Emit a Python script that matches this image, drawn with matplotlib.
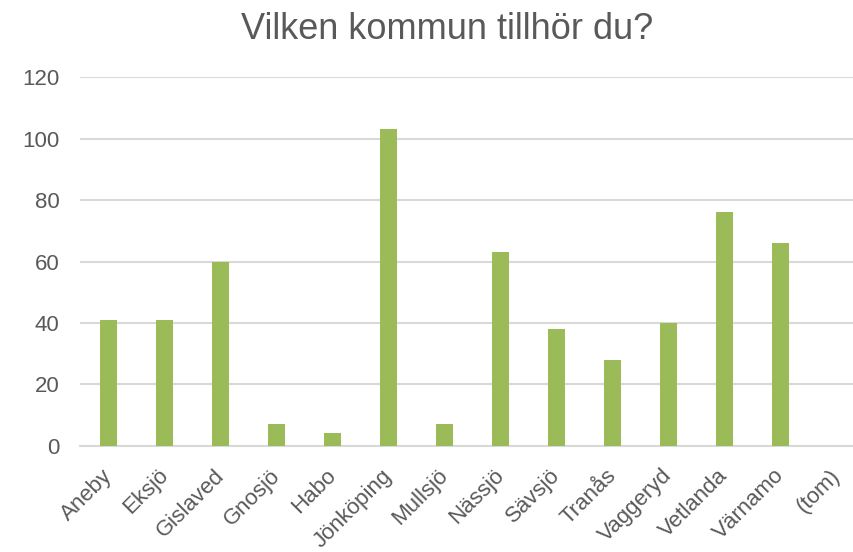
import matplotlib.pyplot as plt
import matplotlib.transforms as mtransforms
import numpy as np

plt.rcParams['font.family'] = ['Liberation Sans', 'DejaVu Sans']

# Data
kommuner = ['Aneby', 'Eksjö', 'Gislaved', 'Gnosjö', 'Habo', 'Jönköping', 'Mullsjö',
            'Nässjö', 'Sävsjö', 'Tranås', 'Vaggeryd', 'Vetlanda', 'Värnamo', '(tom)']
antal = [41, 41, 60, 7, 4, 103, 7, 63, 38, 28, 40, 76, 66, 0]
yticks = [0, 20, 40, 60, 80, 100, 120]

text_color = '#595959'
grid_color = '#D9D9D9'
bar_color = '#9BBB59'

fig = plt.figure(figsize=(8.54, 5.52), dpi=100)
# plot area runs a bit past the right edge of the picture, like the original crop
ax = fig.add_axes([80.5 / 854, 1 - 445.7 / 552, 784 / 854, 368.4 / 552])

x = np.arange(len(kommuner))
ax.bar(x, antal, width=0.30, color=bar_color, zorder=3)

ax.set_xlim(-0.5, len(kommuner) - 0.5)
ax.set_ylim(0, 120)
ax.set_yticks(yticks)
ax.yaxis.grid(True, color=grid_color, linewidth=1.5, zorder=0)

for s in ['top', 'right', 'left']:
    ax.spines[s].set_visible(False)
ax.spines['bottom'].set_color(grid_color)
ax.spines['bottom'].set_linewidth(1.5)

ax.set_xticks(x)
ax.set_xticklabels(kommuner, rotation=45, ha='right', rotation_mode='anchor',
                   fontsize=16, color=text_color)
ax.tick_params(axis='x', length=0, pad=14)
ax.tick_params(axis='y', length=0, pad=15, labelsize=16, labelcolor=text_color)

# nudge x labels slightly left
shift = mtransforms.ScaledTranslation(-7 / 100, 0, fig.dpi_scale_trans)
for lbl in ax.get_xticklabels():
    lbl.set_transform(lbl.get_transform() + shift)

fig.text(447 / 854, 1 - 39 / 552, 'Vilken kommun tillhör du?', ha='center', va='baseline',
         fontsize=26, color=text_color)

plt.savefig('out.png', dpi=100)
